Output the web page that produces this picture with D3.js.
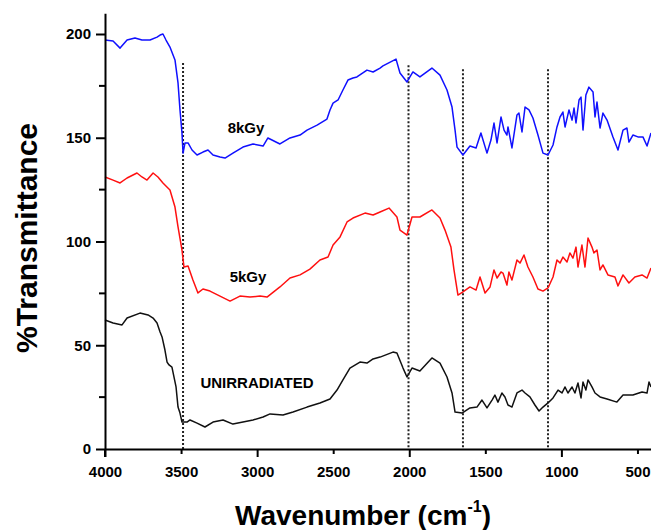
<!DOCTYPE html>
<html>
<head>
<meta charset="utf-8">
<script src="https://cdn.jsdelivr.net/npm/d3@7"></script>
<style>
  html, body { margin: 0; padding: 0; background: #fff; }
  svg { display: block; font-family: "Liberation Sans", Arial, sans-serif; }
</style>
</head>
<body>
<svg id="chart" width="651" height="530"></svg>
<script>
// ---------- DATA ----------
const xTicks = [4000, 3500, 3000, 2500, 2000, 1500, 1000, 500];
const yTicks = [0, 50, 100, 150, 200];
const yMinorTicks = [25, 75, 125, 175];

// 8 kGy (blue)
const wn8 = [4000,3947,3901,3855,3803,3757,3704,3658,3638,3619,3599,3573,3540,3520,3507,3494,3487,3474,3454,3428,3395,3356,3323,3290,3244,3211,3159,3093,3027,2961,2929,2850,2784,2718,2672,2606,2541,2521,2501,2468,2436,2403,2370,2344,2278,2238,2192,2173,2087,2061,2015,1976,1930,1851,1798,1752,1719,1699,1686,1647,1601,1561,1529,1489,1463,1443,1423,1397,1377,1358,1351,1325,1292,1279,1259,1239,1213,1187,1154,1121,1088,1055,1029,1009,990,976,950,930,917,904,884,871,858,839,819,792,779,766,746,727,700,661,628,595,569,556,530,497,464,437,411];
const t8 = [197.1,196.6,193.2,197.1,198.1,197.1,197.1,198.5,199.5,200,197.1,193.7,187.5,176.4,163.4,152.3,142.6,147.5,147.5,144.1,141.7,143.1,144.1,141.7,140.7,140.2,142.6,145.5,147,146,149.9,147,149.9,151.3,153.7,156.1,159,163.4,166.7,168.2,173,177.8,178.8,179.3,182.6,181.7,183.6,184.6,187.9,181.2,176.9,181.7,179.3,183.6,180.2,173,164.8,153.7,145.5,141.7,146,145.1,152.3,142.6,148.9,157.1,147.5,160,153.7,151.3,155.2,145.1,161,161.9,152.8,164.8,163.4,159.5,151.3,142.6,141.7,146.5,155.2,160,162.4,155.2,163.4,158.5,164.3,157.1,168.2,169.6,153.7,170.6,174.4,172,160,167.2,154.7,161.9,158.5,150.4,144.1,153.7,154.7,147.9,151.3,150.4,150.4,146,152.3];

// 5 kGy (red)
const wn5 = [4000,3947,3901,3855,3790,3757,3724,3684,3652,3619,3573,3540,3520,3494,3481,3454,3422,3389,3356,3310,3244,3178,3113,3047,2981,2935,2850,2784,2718,2653,2587,2534,2501,2455,2409,2370,2291,2238,2192,2133,2081,2061,2015,1982,1930,1851,1798,1765,1726,1706,1680,1647,1601,1561,1535,1502,1469,1443,1423,1397,1384,1358,1345,1325,1292,1272,1246,1220,1187,1154,1121,1088,1055,1029,1009,990,963,944,924,904,891,865,845,825,799,786,766,746,727,694,648,628,595,556,517,470,437,411];
const t5 = [131.1,129.6,128.2,130.6,133,131.1,129.6,133,131.1,128.2,124.8,116.6,107,95.9,87.7,88.2,81.4,75.2,77.1,76.1,73.7,71.3,73.7,73.2,73.7,73.2,78.1,82.4,83.9,86.7,91.1,92.5,98.3,102.2,109.4,111.3,113.7,112.8,114.2,116.1,111.8,105.5,103.1,111.8,111.8,115.2,111.3,105.5,97.3,86.3,74.2,75.7,78.1,76.6,82.9,75.2,78.1,86.3,82.4,85.3,84.8,79,85.3,81.4,91.1,89.6,93.5,87.7,82.9,77.1,76.1,77.6,82.9,91.1,89.6,92.5,90.1,94.5,92,97.3,87.7,98.3,87.7,101.7,97.3,94.5,95.9,86.3,88.7,83.9,82.9,78.6,83.9,80,82.9,83.9,82.4,87.2];

// Unirradiated (black)
const wn0 = [4000,3947,3888,3855,3770,3717,3684,3658,3638,3625,3606,3592,3579,3560,3533,3520,3507,3494,3461,3441,3395,3343,3290,3224,3159,3093,3027,2961,2915,2830,2764,2672,2587,2521,2475,2436,2390,2324,2278,2238,2192,2107,2081,2041,2015,1982,1930,1851,1798,1752,1719,1699,1653,1601,1555,1522,1489,1456,1437,1417,1391,1371,1351,1325,1292,1259,1239,1207,1174,1147,1121,1088,1055,1022,996,976,957,930,911,891,871,858,839,825,799,779,746,700,635,595,530,470,437,424,411];
const t0 = [62.2,60.7,59.8,63.1,65.5,64.6,63.1,60.7,56.4,54,47.7,41.9,40.5,39.5,29.9,20.2,17.3,13,13,14,12.5,10.6,13,14,12,13,14,15.4,16.9,16.4,17.8,20.2,22.2,24.1,28.4,33.3,39,41.9,41.4,43.4,44.3,46.7,46.3,39,34.7,39,37.6,43.9,41.4,34.7,27,17.8,17.3,19.8,20.2,23.6,19.8,23.6,26,22.6,27,25.1,21.2,20.2,27,28.4,27,25.1,21.2,18.3,20.2,22.2,24.6,28.4,27,29.9,27,29.9,27,31.8,24.6,32.3,28.4,33.3,29.9,27,25.1,24.1,22.6,26,26,27.5,27,32.3,29.9];

// dotted reference lines (wavenumber, top value)
const refWn = [3487, 2005, 1647, 1088];
const refTop = [186, 185, 183, 183];

// series labels
const labelText = ["8kGy", "5kGy", "UNIRRADIATED"];
const labelWn = [3073, 3060, 3001];
const labelVal = [154.7, 82.9, 31.8];

// ---------- CHART ----------
const svg = d3.select("#chart");
const x = d3.scaleLinear().domain([4000, 411]).range([105, 651]);
const y = d3.scaleLinear().domain([0, 210]).range([449, 13.25]);

const line = d3.line().x(d => x(d[0])).y(d => y(d[1]));
const series = [
  { wn: wn8, t: t8, color: "#1010ff" },
  { wn: wn5, t: t5, color: "#ff1010" },
  { wn: wn0, t: t0, color: "#111111" }
];

// reference dotted lines
svg.append("g").selectAll("line").data(refWn).join("line")
  .attr("x1", d => x(d)).attr("x2", d => x(d))
  .attr("y1", (d, i) => y(refTop[i])).attr("y2", y(0))
  .attr("stroke", "#222").attr("stroke-width", 2)
  .attr("stroke-dasharray", "2,2");

// series lines
svg.append("g").selectAll("path").data(series).join("path")
  .attr("d", s => line(s.wn.map((w, i) => [w, s.t[i]])))
  .attr("fill", "none")
  .attr("stroke", s => s.color)
  .attr("stroke-width", 1.5)
  .attr("stroke-linejoin", "round");

// x axis
const xAxis = svg.append("g").attr("transform", `translate(0,${y(0)})`)
  .call(d3.axisBottom(x).tickValues(xTicks).tickFormat(d3.format("d"))
    .tickSizeInner(0).tickSizeOuter(0).tickPadding(17));
xAxis.select(".domain").attr("stroke", "#000").attr("stroke-width", 2);
xAxis.selectAll(".tick line").remove();
xAxis.selectAll(".tick").append("line")
  .attr("y1", 0).attr("y2", d => (d % 1000 === 0 ? 8 : 5))
  .attr("stroke", "#000").attr("stroke-width", 2);
xAxis.selectAll(".tick text")
  .attr("font-size", 15).attr("font-weight", "bold").attr("fill", "#000")
  .attr("font-family", "Liberation Sans, Arial, sans-serif");

// y axis
const yAxis = svg.append("g").attr("transform", `translate(${x(4000)},0)`)
  .call(d3.axisLeft(y).tickValues(yTicks).tickSizeInner(9).tickSizeOuter(0).tickPadding(5));
yAxis.select(".domain").attr("stroke", "#000").attr("stroke-width", 2);
yAxis.selectAll(".tick line").attr("stroke", "#000").attr("stroke-width", 2);
yAxis.selectAll(".tick text")
  .attr("font-size", 15).attr("font-weight", "bold").attr("fill", "#000")
  .attr("font-family", "Liberation Sans, Arial, sans-serif");
yAxis.append("g").selectAll("line").data(yMinorTicks).join("line")
  .attr("x1", 0).attr("x2", -6).attr("y1", d => y(d)).attr("y2", d => y(d))
  .attr("stroke", "#000").attr("stroke-width", 2);
svg.append("line").attr("x1", x(4000)).attr("x2", x(4000))
  .attr("y1", y(0)).attr("y2", y(0) + 8).attr("stroke", "#000").attr("stroke-width", 2);

// series labels
svg.append("g").selectAll("text").data(labelText).join("text")
  .attr("x", (d, i) => x(labelWn[i])).attr("y", (d, i) => y(labelVal[i]))
  .attr("dy", "0.35em").attr("text-anchor", "middle")
  .attr("font-size", 15).attr("font-weight", "bold").attr("fill", "#000")
  .text(d => d);

// axis titles
svg.append("text")
  .attr("transform", "translate(37,238) rotate(-90)")
  .attr("text-anchor", "middle").attr("font-size", 30).attr("font-weight", "bold")
  .text("%Transmittance");

const xt = svg.append("text").attr("x", 363).attr("y", 525)
  .attr("text-anchor", "middle").attr("font-size", 28).attr("font-weight", "bold");
xt.append("tspan").text("Wavenumber (cm");
xt.append("tspan").attr("font-size", 16).attr("dy", -13).text("-1");
xt.append("tspan").attr("dy", 13).text(")");
</script>
</body>
</html>
